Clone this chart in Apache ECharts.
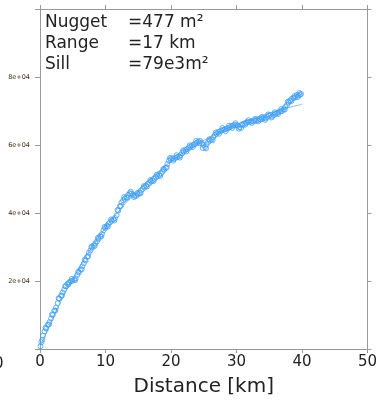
<!DOCTYPE html>
<html><head><meta charset="utf-8">
<script src="https://cdn.jsdelivr.net/npm/echarts@6/dist/echarts.min.js"></script>
<style>html,body{margin:0;padding:0;background:#fff}#c{width:380px;height:402px}</style>
</head><body><div id="c"></div>
<script>
// empirical variogram: lag distance (km) and semivariance
var lagDist = [0.2,0.45,0.7,0.95,1.2,1.45,1.7,1.95,2.2,2.45,2.7,2.95,3.2,3.45,3.7,3.95,4.2,4.45,4.7,4.95,
5.2,5.45,5.7,5.95,6.2,6.45,6.7,6.95,7.2,7.45,7.7,7.95,8.2,8.45,8.7,8.95,9.2,9.45,9.7,9.95,
10.2,10.45,10.7,10.95,11.2,11.45,11.7,11.95,12.2,12.45,12.7,12.95,13.2,13.45,13.7,13.95,14.2,14.45,14.7,14.95,
15.2,15.45,15.7,15.95,16.2,16.45,16.7,16.95,17.2,17.45,17.7,17.95,18.2,18.45,18.7,18.95,19.2,19.45,19.7,19.95,
20.2,20.45,20.7,20.95,21.2,21.45,21.7,21.95,22.2,22.45,22.7,22.95,23.2,23.45,23.7,23.95,24.2,24.45,24.7,24.95,
25.2,25.45,25.7,25.95,26.2,26.45,26.7,26.95,27.2,27.45,27.7,27.95,28.2,28.45,28.7,28.95,29.2,29.45,29.7,29.95,
30.2,30.45,30.7,30.95,31.2,31.45,31.7,31.95,32.2,32.45,32.7,32.95,33.2,33.45,33.7,33.95,34.2,34.45,34.7,34.95,
35.2,35.45,35.7,35.95,36.2,36.45,36.7,36.95,37.2,37.45,37.7,37.95,38.2,38.45,38.7,38.95,39.2,39.45,39.7,39.85];
var semivar = [2000,3900,5200,6000,7100,7900,9000,10000,11300,12200,13500,14800,15700,16600,17500,18400,19200,19600,19900,20100,
20400,20800,21800,22500,23400,24300,25200,26000,27100,28300,29000,29800,30500,31100,31700,32400,33200,33800,34900,35600,
36200,36800,37300,37700,38100,38500,39300,40700,42000,43100,43700,44200,44600,45300,45800,45700,45400,45100,45000,45500,
45900,46600,47100,47500,48000,48500,48800,49300,49600,50100,50500,50800,51200,51600,52100,52700,53300,54400,55400,55800,
56100,55900,56200,56500,56600,57000,57600,58000,58500,58800,59100,59500,59800,60100,60300,60700,61000,61200,60600,60000,
59400,60200,60900,61300,61600,62300,62900,63300,63800,64000,64200,64500,64600,64800,64900,65200,65500,65700,65800,65900,
65700,65200,65000,65800,66300,66600,66800,66700,66900,67000,67200,67100,67300,67600,67500,67700,68000,67800,68200,68600,
68900,68400,68800,69200,69400,69700,69900,70000,70500,71200,71800,72500,73100,73600,73800,74000,74700,74500,74800,75000];
// second set of lag pairs (interleaved bins)
var lagDist2 = [0.08,0.35,0.85,1.35,1.85,2.35,2.85,3.35,3.85,4.35,4.85,5.35,5.85,6.35,6.85,7.35,7.85,8.35,8.85,9.35,9.85,
10.35,10.85,11.35,11.85,12.35,12.85,13.35,13.85,14.35,14.85,15.35,15.85,16.35,16.85,17.35,17.85,18.35,18.85,19.35,19.85,
20.35,20.85,21.35,21.85,22.35,22.85,23.35,23.85,24.35,24.85,25.35,25.85,26.35,26.85,27.35,27.85,28.35,28.85,29.35,29.85,
30.35,30.85,31.35,31.85,32.35,32.85,33.35,33.85,34.35,34.85,35.35,35.85,36.35,36.85,37.35,37.85,38.35,38.85,39.35,39.6];
var semivar2 = [800,2700,6300,7200,10200,11300,14900,15700,18500,19000,20600,20200,22800,23400,26300,27300,30100,30300,32700,33100,35900,
36000,38100,37800,40900,42100,44700,44500,46300,44700,45900,45800,47900,47800,49700,49400,51300,50900,53000,53400,56200,
55400,57000,56300,58400,58100,59900,59400,61200,60500,59100,59000,61700,61400,63700,63300,65000,64100,65700,65000,66400,
64800,66100,66000,67300,66500,67700,67000,68200,67400,69000,68100,69600,69100,70600,70400,72800,72900,74400,74100,75300];
// fitted model curve
var modelDist = [0,2,4,6,8,10,12,14,16,18,20,22,24,26,28,30,32,34,36,38,40];
var modelVal = [477,9250,17050,23970,30130,35610,40480,44800,48650,52070,55110,57820,60230,62360,64260,65960,67450,68790,69970,71020,71970];
var xTicks = [0,10,20,30,40,50];
var infoNames = ['Nugget','Range','Sill'];
var infoVals = ['=477 m\u00b2','=17 km','=79e3m\u00b2'];

var pts = lagDist.map(function(d,i){return [d, semivar[i]];});
var pts2 = lagDist2.map(function(d,i){return [d, semivar2[i]];});
var model = modelDist.map(function(d,i){return [d, modelVal[i]];});
var axCol = '#999999';
var font = 'DejaVu Sans';
function yfmt(v){
  if (v === 0 || v >= 100000) return '';
  var e = Math.floor(Math.log10(v)); var m = Math.round(v/Math.pow(10,e));
  return m + 'e+' + (e<10?'0':'') + e;
}
var graphics = [];
infoNames.forEach(function(n,i){
  graphics.push({type:'text', x:45, y: 23 + i*21, style:{text:n, font:'17px "DejaVu Sans"', fill:'#222', verticalAlign:'middle'}, z:10});
  graphics.push({type:'text', x:128, y: 23 + i*21, style:{text:infoVals[i], font:'17px "DejaVu Sans"', fill:'#222', verticalAlign:'middle'}, z:10});
});
graphics.push({type:'text', x:-6, y:364, style:{text:'0', font:'15px "DejaVu Sans"', fill:'#222', verticalAlign:'middle'}});

var scatterStyle = {color:'rgba(255,255,255,0)', borderColor:'#3d9df5', borderWidth:1};
var chart = echarts.init(document.getElementById('c'), null, {renderer:'canvas'});
chart.setOption({
  animation:false,
  textStyle:{fontFamily:font},
  grid:{left:40, right:9, top:9, bottom:53, containLabel:false},
  xAxis:[{
    type:'value', min:xTicks[0], max:xTicks[xTicks.length-1], interval:10, position:'bottom',
    axisLine:{show:true, onZero:false, lineStyle:{color:axCol, width:1}},
    axisTick:{show:true, inside:false, length:4, lineStyle:{color:axCol}},
    axisLabel:{fontSize:15, color:'#222', margin:6, fontFamily:font},
    splitLine:{show:false},
    name:'Distance [km]', nameLocation:'middle', nameGap:28,
    nameTextStyle:{fontSize:20, color:'#222', fontFamily:font}
  },{
    type:'value', min:0, max:50, interval:10, position:'top',
    axisLine:{show:true, onZero:false, lineStyle:{color:axCol}},
    axisTick:{show:true, inside:false, length:4, lineStyle:{color:axCol}},
    axisLabel:{show:false}, splitLine:{show:false}
  }],
  yAxis:[{
    type:'value', min:0, max:100000, interval:20000, position:'left',
    axisLine:{show:true, onZero:false, lineStyle:{color:axCol}},
    axisTick:{show:true, inside:false, length:5, lineStyle:{color:axCol}},
    axisLabel:{fontSize:6.5, color:'#3a2a1a', margin:10, formatter:yfmt, fontFamily:font},
    splitLine:{show:false}
  },{
    type:'value', min:0, max:100000, interval:20000, position:'right',
    axisLine:{show:true, onZero:false, lineStyle:{color:axCol}},
    axisTick:{show:true, inside:false, length:4, lineStyle:{color:axCol}},
    axisLabel:{show:false}, splitLine:{show:false}
  }],
  series:[{
    type:'line', data:model, smooth:true, showSymbol:false, symbol:'none',
    lineStyle:{color:'#7fbdf2', width:1}, z:2
  },{
    type:'scatter', data:pts, symbol:'circle', symbolSize:5, itemStyle:scatterStyle, z:3
  },{
    type:'scatter', data:pts2, symbol:'circle', symbolSize:5, itemStyle:scatterStyle, z:3
  }],
  graphic: graphics
});
</script></body></html>
